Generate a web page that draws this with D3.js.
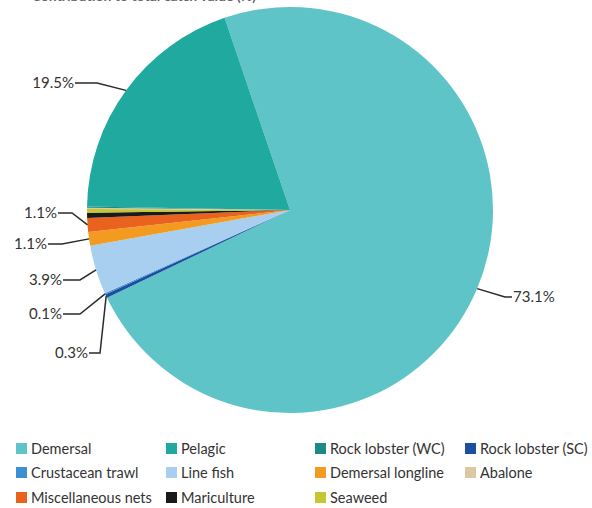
<!DOCTYPE html>
<html>
<head>
<meta charset="utf-8">
<script src="https://cdn.jsdelivr.net/npm/d3@7"></script>
<style>
  html, body { margin: 0; padding: 0; background: #ffffff; }
  svg { display: block; }
  text { font-family: Lato, "Open Sans", sans-serif; fill: #333; }
</style>
</head>
<body>
<div id="chart"></div>
<script>
// Sectors in legend order, with their share of the total (%)
const categories = ["Demersal", "Pelagic", "Rock lobster (WC)", "Rock lobster (SC)",
  "Crustacean trawl", "Line fish", "Demersal longline", "Abalone",
  "Miscellaneous nets", "Mariculture", "Seaweed"];
const shares = [73.1, 19.5, 0.1, 0.3, 0.1, 3.9, 1.1, 0.1, 1.1, 0.4, 0.3];
const colors = ["#5fc4c7", "#20a99e", "#1c8a87", "#1c4f9f", "#3b8fd2", "#a8cff0",
  "#f39a21", "#dcc8a2", "#e9621e", "#1a1a1a", "#c4c634"];

// Order the slices run clockwise around the pie
const sliceOrder = ["Demersal", "Rock lobster (SC)", "Crustacean trawl", "Line fish",
  "Demersal longline", "Miscellaneous nets", "Mariculture", "Seaweed", "Abalone",
  "Rock lobster (WC)", "Pelagic"];

// Slices that carry a value label
const labelled = ["Demersal", "Pelagic", "Rock lobster (SC)", "Crustacean trawl",
  "Line fish", "Demersal longline", "Miscellaneous nets"];

const W = 592, H = 508;
const cx = 290, cy = 210, R = 203;

const svg = d3.select("#chart").append("svg").attr("width", W).attr("height", H);

// Heading, clipped by the top edge
svg.append("text")
  .attr("x", 256).attr("y", 1)
  .attr("text-anchor", "end")
  .style("font-size", "14px").style("font-weight", "bold").style("fill", "#666")
  .text("Contribution to total catch value (%)");

const data = sliceOrder.map(name => {
  const i = categories.indexOf(name);
  return { name, value: shares[i], color: colors[i] };
});

const start = -18.8 * Math.PI / 180;
const pie = d3.pie().sort(null).value(d => d.value)
  .startAngle(start).endAngle(start + 2 * Math.PI);
const arcs = pie(data);
const arc = d3.arc().innerRadius(0).outerRadius(R);

const g = svg.append("g").attr("transform", `translate(${cx},${cy})`);
g.selectAll("path.slice").data(arcs).enter().append("path")
  .attr("class", "slice")
  .attr("d", arc)
  .attr("fill", d => d.data.color);

// Label placement: text anchor point, side, and elbow x of the leader
const labelLayout = {
  "Demersal":           { x: 513, y: 297, anchor: "start", elbow: 505 },
  "Pelagic":            { x: 74,  y: 83,  anchor: "end",   elbow: 97 },
  "Miscellaneous nets": { x: 57,  y: 213, anchor: "end",   elbow: 72 },
  "Demersal longline":  { x: 47,  y: 244, anchor: "end",   elbow: 62 },
  "Line fish":          { x: 62,  y: 280, anchor: "end",   elbow: 80 },
  "Crustacean trawl":   { x: 62,  y: 314, anchor: "end",   elbow: 80 },
  "Rock lobster (SC)":  { x: 88,  y: 353, anchor: "end",   elbow: 100 }
};

const fmt = v => v.toFixed(1) + "%";

arcs.filter(a => labelled.includes(a.data.name)).forEach(a => {
  const L = labelLayout[a.data.name];
  const mid = (a.startAngle + a.endAngle) / 2;
  const ex = cx + R * Math.sin(mid);
  const ey = cy - R * Math.cos(mid);
  const tx = L.anchor === "end" ? L.x + 1 : L.x - 1;
  svg.append("path")
    .attr("d", d3.line()([[ex, ey], [L.elbow, L.y], [tx, L.y]]))
    .attr("fill", "none").attr("stroke", "#2a2a2a").attr("stroke-width", 1.5);
  svg.append("text")
    .attr("x", L.x).attr("y", L.y).attr("dy", "0.35em")
    .attr("text-anchor", L.anchor)
    .style("font-size", "15px")
    .text(fmt(a.data.value));
});

// Legend: four columns, three rows
const colX = [16, 166, 315, 465];
const rowY = [449, 473, 498];
const legend = svg.append("g");
categories.forEach((name, i) => {
  const col = i % 4, row = Math.floor(i / 4);
  const item = legend.append("g")
    .attr("transform", `translate(${colX[col]},${rowY[row]})`);
  item.append("rect")
    .attr("x", 0).attr("y", -6).attr("width", 11).attr("height", 11)
    .attr("fill", colors[i]);
  item.append("text")
    .attr("x", 15).attr("y", 0).attr("dy", "0.35em")
    .style("font-size", "14.5px")
    .text(name);
});
</script>
</body>
</html>
